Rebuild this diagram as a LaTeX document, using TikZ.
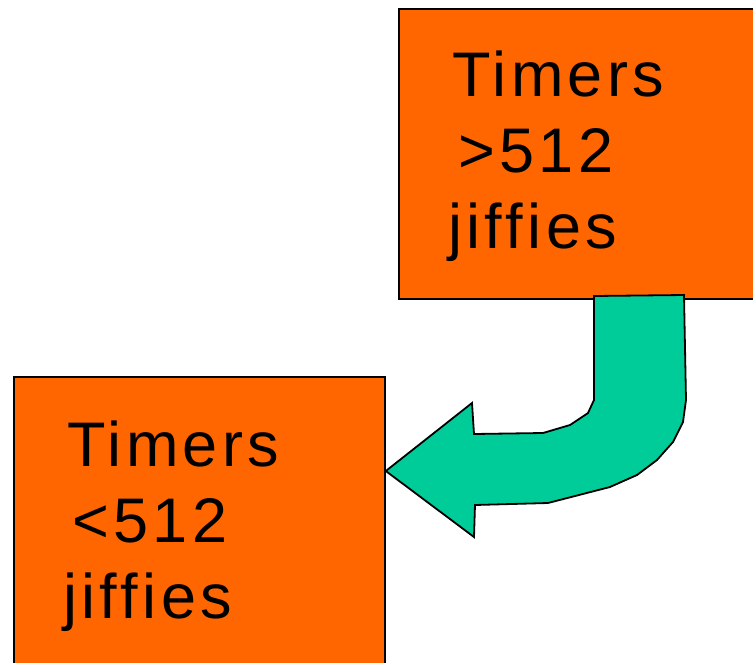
\documentclass[tikz,border=0pt]{standalone}
\usepackage{fontspec}
\setmainfont[LetterSpace=7]{Liberation Sans}
\definecolor{boxorange}{RGB}{255,102,0}
\definecolor{arrowgreen}{RGB}{0,204,153}
\begin{document}
\begin{tikzpicture}[x=1pt,y=-1pt,
  timerbox/.style={draw=black,line width=1.8pt,fill=boxorange,rectangle,inner sep=0pt,anchor=north west},
  boxtext/.style={font=\fontsize{63}{76}\selectfont,align=left,inner sep=0pt,anchor=base west},
  bentarrow/.style={draw=black,line width=1.8pt,fill=arrowgreen,line join=miter}]
\useasboundingbox (0,0) rectangle (753,662);
% boxes
\node[timerbox,minimum width=370pt,minimum height=290pt] (far) at (398,8) {};
\node[timerbox,minimum width=371pt,minimum height=300pt] (near) at (13,376) {};
% labels (anchored on the baseline of the last line)
\node[boxtext] (fartext) at (452,248) {Timers\\\hspace*{6pt}>512\\\hspace*{-4pt}jiffies};
\node[boxtext] (neartext) at (67,618) {Timers\\\hspace*{5pt}<512\\\hspace*{-4pt}jiffies};
% bent block arrow from the upper box down to the lower box
\coordinate (tip) at (near.east |- 0,471);
\draw[bentarrow] (594,296) -- (684,295) -- (686,400) -- (683,422) -- (673,442)
  -- (657,460) -- (637,475) -- (610,487) -- (548,503) -- (475,505)
  -- (474,537) -- (tip) -- (472,403) -- (474,434) -- (543,433)
  -- (570,425) -- (588,413) -- (594,400) -- cycle;
\end{tikzpicture}
\end{document}
